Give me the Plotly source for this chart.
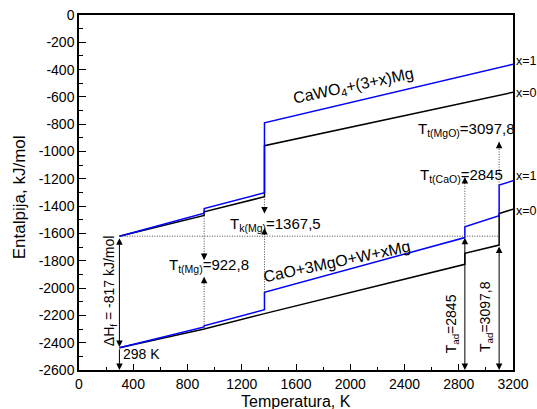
import plotly.graph_objects as go

# ---------------- data ----------------
T0 = 298.0          # K
T_T_MG = 922.8      # melting Mg
T_K_MG = 1367.5     # boiling Mg
T_AD1 = 2845.0      # T_t(CaO) / T_ad
T_AD2 = 3097.8      # T_t(MgO) / T_ad

react_T = [298, 922.8, 922.8, 1367.5, 1367.5, 3200]
react_x0_H = [-1620, -1468, -1442, -1331, -957, -566]
react_x1_H = [-1620, -1452, -1418, -1302, -789, -361]

prod_x0_T = [298, 922.8, 1367.5, 2845, 2845, 3097.8, 3097.8, 3200]
prod_x0_H = [-2437, -2300, -2187, -1826, -1745, -1685, -1455, -1422]

prod_x1_T = [298, 922.8, 922.8, 1367.5, 1367.5, 2845, 2845, 3097.8, 3097.8, 3200]
prod_x1_H = [-2437, -2285, -2277, -2158, -2031, -1630, -1551, -1470, -1245, -1214]

dH_label = "ΔH<sub>f</sub> = -817 kJ/mol"
x_ticks = [0, 400, 800, 1200, 1600, 2000, 2400, 2800, 3200]
y_ticks = list(range(0, -2601, -200))
y_ticktext = [str(v) for v in y_ticks]   # plain hyphen-minus as in the reference

FONT = "Arial, Liberation Sans, sans-serif"
BLUE = "#0000ff"
DOT = "#444444"
DOT_DASH = "1px,1.5px"

fig = go.Figure()

for T, H, c in [(react_T, react_x0_H, "black"), (react_T, react_x1_H, BLUE),
                (prod_x0_T, prod_x0_H, "black"), (prod_x1_T, prod_x1_H, BLUE)]:
    fig.add_trace(go.Scatter(x=T, y=H, mode="lines", line=dict(color=c, width=1.5),
                             showlegend=False, hoverinfo="skip"))

H0 = react_x0_H[0]
HP0 = prod_x0_H[0]

# horizontal dotted reference line at initial enthalpy
fig.add_shape(type="line", x0=T0, x1=T_AD2, y0=H0, y1=H0, xref="x", yref="y",
              line=dict(color=DOT, width=1, dash=DOT_DASH))


def solid_arrow(x, y_head, y_tail, both=False):
    fig.add_annotation(x=x, y=y_head, ax=x, ay=y_tail, xref="x", yref="y",
                       axref="x", ayref="y", text="", showarrow=True,
                       arrowhead=2, arrowsize=1.3, arrowwidth=1, arrowcolor="black",
                       startarrowhead=2, startarrowsize=1.3,
                       arrowside="end+start" if both else "end",
                       standoff=0, startstandoff=0)


def dotted_arrow(x, y_tail, y_head):
    fig.add_shape(type="line", x0=x, x1=x, y0=y_tail, y1=y_head, xref="x", yref="y",
                  line=dict(color=DOT, width=1, dash=DOT_DASH))
    up = y_head > y_tail
    fig.add_annotation(x=x, y=y_head, ax=0, ay=8 if up else -8, xref="x", yref="y",
                       text="", showarrow=True, arrowhead=2, arrowsize=1.3,
                       arrowwidth=1, arrowcolor="black", standoff=0)


# ΔH arrow at 298 K and 298 K arrow
solid_arrow(T0, HP0 + 5, H0 - 5, both=True)
solid_arrow(T0, -2600, HP0)

# Mg melting
dotted_arrow(T_T_MG, react_x1_H[1], -1795)
dotted_arrow(T_T_MG, prod_x1_H[1], -1917)
# Mg boiling
dotted_arrow(T_K_MG, react_x0_H[3], -1453)
dotted_arrow(T_K_MG, prod_x1_H[4], -1560)
# CaO melting
dotted_arrow(T_AD1, prod_x1_H[6], -1187)
solid_arrow(T_AD1, -2600, H0, both=True)
# MgO melting
dotted_arrow(T_AD2, prod_x1_H[8], -928)
solid_arrow(T_AD2, -2600, prod_x0_H[5], both=True)


def label(x, y, text, size=15, xanchor="left", angle=0, xref="x", yref="y"):
    fig.add_annotation(x=x, y=y, text=text, showarrow=False, xref=xref, yref=yref,
                       xanchor=xanchor, yanchor="middle", textangle=angle,
                       font=dict(family=FONT, size=size, color="black"))


label(649, -1831, "T<sub>t(Mg)</sub>=922,8")
label(1099, -1531, "T<sub>k(Mg)</sub>=1367,5")
label(2500, -1179, "T<sub>t(CaO)</sub>=2845")
label(2488, -842, "T<sub>t(MgO)</sub>=3097,8")
label(2024, -520, "CaWO<sub>4</sub>+(3+x)Mg", size=16, xanchor="center", angle=-12)
label(1900, -1808, "CaO+3MgO+W+xMg", size=16, xanchor="center", angle=-12)
label(229, -2022, dH_label, size=14, xanchor="center", angle=-90)
label(2752, -2264, "T<sub>ad</sub>=2845", size=14, xanchor="center", angle=-90)
label(3001, -2212, "T<sub>ad</sub>=3097,8", size=14, xanchor="center", angle=-90)
label(308, -2483, "298 K", size=14)
# end-of-line labels just right of the plot frame
for yv, t in [(-337, "x=1"), (-574, "x=0"), (-1179, "x=1"), (-1434, "x=0")]:
    label(1.003, yv, t, size=12.5, xref="paper", yref="y")

# axis titles
label(0.5, -0.089, "Temperatura, K", size=16, xanchor="center", xref="paper", yref="paper")
label(-0.138, 0.487, "Entalpija, kJ/mol", size=17, xanchor="center", angle=-90,
      xref="paper", yref="paper")

axis_common = dict(showline=True, linecolor="black", linewidth=1.5, mirror=True,
                   ticks="inside", tickcolor="black", tickwidth=1.2, showgrid=False,
                   zeroline=False, automargin=False, ticklabeloverflow="allow",
                   tickfont=dict(family=FONT, size=14, color="black"))

fig.update_xaxes(range=[0, 3200], tickvals=x_ticks, ticktext=[str(v) for v in x_ticks],
                 ticklen=6,
                 minor=dict(ticks="inside", ticklen=3, dtick=200, tick0=0,
                            tickcolor="black", showgrid=False),
                 **axis_common)
fig.update_yaxes(range=[-2600, 0], tickvals=y_ticks, ticktext=y_ticktext, ticklen=7,
                 minor=dict(ticks="inside", ticklen=4, dtick=100, tick0=0,
                            tickcolor="black", showgrid=False),
                 **axis_common)

fig.update_layout(width=537, height=409, margin=dict(l=79, r=24, t=15, b=39),
                  plot_bgcolor="white", paper_bgcolor="white",
                  font=dict(family=FONT, color="black"), showlegend=False)

# remove the browser's default 8 px page margin so the figure fills the window
fig.write_html("out.html", config={"displayModeBar": False},
               post_script="document.body.style.margin='0';"
                           "document.body.style.overflow='hidden';")
